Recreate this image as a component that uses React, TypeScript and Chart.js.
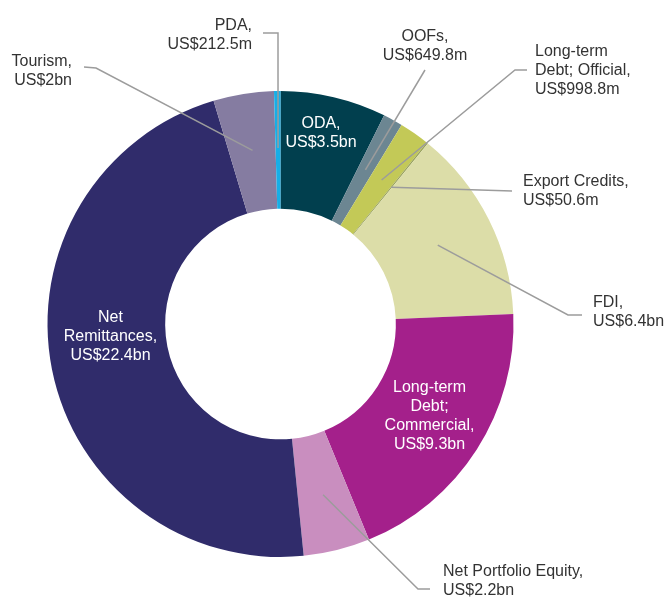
import React, { useEffect, useRef } from "react";
import { Chart, registerables } from "chart.js";

Chart.register(...registerables);

// ---- Data ----
const categories = [
  "ODA",
  "OOFs",
  "Long-term Debt; Official",
  "Export Credits",
  "FDI",
  "Long-term Debt; Commercial",
  "Net Portfolio Equity",
  "Net Remittances",
  "Tourism",
  "PDA",
];
// values in US$ bn
const values = [3.5, 0.6498, 0.9988, 0.0506, 6.4, 9.3, 2.2, 22.4, 2.0, 0.2125];
const valueLabels = [
  "US$3.5bn",
  "US$649.8m",
  "US$998.8m",
  "US$50.6m",
  "US$6.4bn",
  "US$9.3bn",
  "US$2.2bn",
  "US$22.4bn",
  "US$2bn",
  "US$212.5m",
];
const labelLines = [
  ["ODA,"],
  ["OOFs,"],
  ["Long-term", "Debt; Official,"],
  ["Export Credits,"],
  ["FDI,"],
  ["Long-term", "Debt;", "Commercial,"],
  ["Net Portfolio Equity,"],
  ["Net", "Remittances,"],
  ["Tourism,"],
  ["PDA,"],
];

// ---- Styles ----
const colors = [
  "#013f4e",
  "#6c8692",
  "#c3c957",
  "#9aa35a",
  "#dcdda8",
  "#a4208b",
  "#c98ebf",
  "#302c6b",
  "#857ca1",
  "#17aee6",
];

// Label layout (offsets in px relative to doughnut centre)
type LabelLayout = {
  inside: boolean;
  align: CanvasTextAlign;
  dx: number;
  dy: number; // centre of first line
  start?: [number, number];
  elbow?: [number, number];
};
const layouts: LabelLayout[] = [
  { inside: true, align: "center", dx: 40.5, dy: -200 },
  { inside: false, align: "center", dx: 144.5, dy: -287, start: [144.5, -254] },
  { inside: false, align: "left", dx: 254.5, dy: -272, start: [246.5, -254], elbow: [234.5, -254] },
  { inside: false, align: "left", dx: 242.5, dy: -142, start: [231.5, -133] },
  { inside: false, align: "left", dx: 312.5, dy: -21, start: [301.5, -9], elbow: [287.5, -9] },
  { inside: true, align: "center", dx: 149, dy: 64 },
  { inside: false, align: "left", dx: 162.5, dy: 248, start: [149.5, 265], elbow: [137.5, 265] },
  { inside: true, align: "center", dx: -170, dy: -6 },
  { inside: false, align: "right", dx: -208.5, dy: -262, start: [-196.5, -257], elbow: [-184.5, -256] },
  { inside: false, align: "right", dx: -28.5, dy: -298, start: [-17.5, -291], elbow: [-2.5, -291] },
];

const FONT = '16px "Liberation Sans", Arial, sans-serif';
const LINE_H = 19;

const labelPlugin = {
  id: "donutLabels",
  afterDatasetsDraw(chart: any) {
    const meta = chart.getDatasetMeta(0);
    const ctx: CanvasRenderingContext2D = chart.ctx;
    ctx.save();
    ctx.font = FONT;
    ctx.textBaseline = "middle";
    meta.data.forEach((arc: any, i: number) => {
      const L = layouts[i];
      const { x, y, startAngle, endAngle, outerRadius } = arc.getProps(
        ["x", "y", "startAngle", "endAngle", "outerRadius"],
        true
      );
      if (!L.inside && L.start) {
        const mid = (startAngle + endAngle) / 2;
        const r = outerRadius * 0.755;
        const ex = x + Math.cos(mid) * r;
        const ey = y + Math.sin(mid) * r;
        ctx.beginPath();
        ctx.strokeStyle = "#9c9c9c";
        ctx.lineWidth = 1.5;
        ctx.moveTo(x + L.start[0], y + L.start[1]);
        if (L.elbow) ctx.lineTo(x + L.elbow[0], y + L.elbow[1]);
        ctx.lineTo(ex, ey);
        ctx.stroke();
      }
      const lines = [...labelLines[i], valueLabels[i]];
      ctx.fillStyle = L.inside ? "#ffffff" : "#333333";
      ctx.textAlign = L.align;
      lines.forEach((t, k) => {
        ctx.fillText(t, x + L.dx, y + L.dy + k * LINE_H);
      });
    });
    ctx.restore();
  },
};

export default function App() {
  const ref = useRef<HTMLCanvasElement>(null);
  useEffect(() => {
    document.body.style.margin = "0";
    const chart = new Chart(ref.current!, {
      type: "doughnut",
      data: {
        labels: categories,
        datasets: [
          {
            data: values,
            backgroundColor: colors,
            borderWidth: 0,
            hoverOffset: 0,
          },
        ],
      },
      options: {
        animation: false,
        responsive: false,
        cutout: "49.5%",
        layout: { padding: { left: 47.5, right: 152.5, top: 91, bottom: 40 } },
        plugins: {
          legend: { display: false },
          tooltip: { enabled: false },
        },
        events: [],
      },
      plugins: [labelPlugin],
    });
    return () => chart.destroy();
  }, []);
  return (
    <div style={{ position: "absolute", left: 0, top: 0, width: 666, height: 597 }}>
      <canvas ref={ref} width={666} height={597} />
    </div>
  );
}
